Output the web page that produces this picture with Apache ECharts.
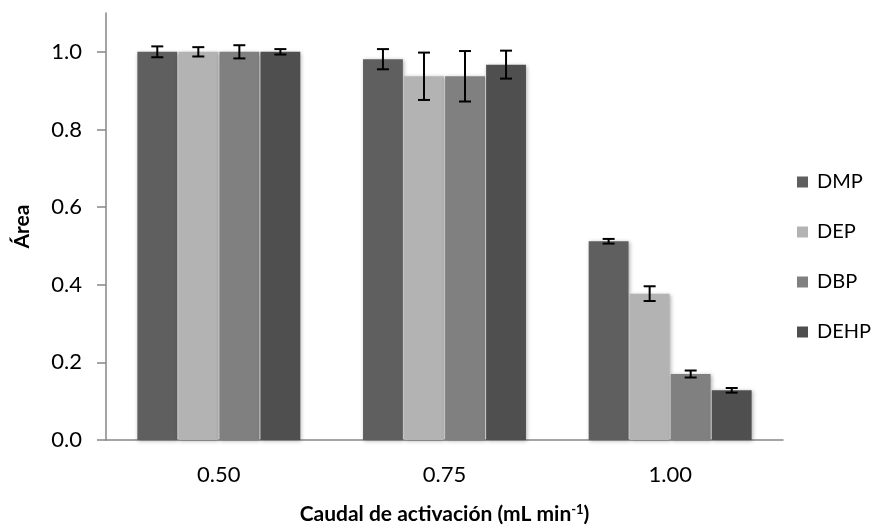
<!DOCTYPE html>
<html>
<head>
<meta charset="utf-8">
<script src="https://cdn.jsdelivr.net/npm/echarts@6/dist/echarts.min.js"></script>
<style>html,body{margin:0;padding:0;background:#fff;}#c{width:873px;height:525px;}</style>
</head>
<body>
<div id="c"></div>
<script>
const categories = ['0.50', '0.75', '1.00'];
const seriesNames = ['DMP', 'DEP', 'DBP', 'DEHP'];
const dmp = [1.000, 0.981, 0.512];
const dep = [1.000, 0.937, 0.377];
const dbp = [1.000, 0.937, 0.170];
const dehp = [1.000, 0.967, 0.128];
const dmpErr = [0.014, 0.026, 0.006];
const depErr = [0.012, 0.061, 0.019];
const dbpErr = [0.017, 0.065, 0.009];
const dehpErr = [0.007, 0.036, 0.006];
const yTicks = [0, 0.2, 0.4, 0.6, 0.8, 1.0];

const values = [dmp, dep, dbp, dehp];
const errors = [dmpErr, depErr, dbpErr, dehpErr];
const colors = ['#5f5f5f', '#b3b3b3', '#808080', '#4f4f4f'];
const CAT_GAP = 0.278, BAR_GAP = 0.03;
const FONT = 'Lato, "Open Sans", sans-serif';
const FS = 22;

const chart = echarts.init(document.getElementById('c'));
const series = [];
seriesNames.forEach((n, i) => {
  series.push({
    name: n, type: 'bar', data: values[i],
    barCategoryGap: (CAT_GAP * 100) + '%', barGap: (BAR_GAP * 100) + '%',
    itemStyle: { color: colors[i], shadowBlur: 4, shadowColor: 'rgba(0,0,0,0.3)', shadowOffsetX: 1, shadowOffsetY: 1 },
    z: 2
  });
});
seriesNames.forEach((n, i) => {
  series.push({
    name: 'err_' + n, type: 'custom', z: 5,
    data: values[i].map((v, k) => [k, v, errors[i][k]]),
    renderItem: function (params, api) {
      const k = api.value(0), v = api.value(1), e = api.value(2);
      const band = api.size([1, 0])[0];
      const groupW = band * (1 - CAT_GAP);
      const bw = groupW / (4 + 3 * BAR_GAP);
      const c = api.coord([k, v]);
      const x = c[0] - groupW / 2 + i * bw * (1 + BAR_GAP) + bw / 2;
      const yTop = api.coord([k, v + e])[1];
      const yBot = api.coord([k, v - e])[1];
      const cap = 6;
      const st = { stroke: '#000', lineWidth: 2 };
      return { type: 'group', children: [
        { type: 'line', shape: { x1: x, y1: yTop, x2: x, y2: yBot }, style: st },
        { type: 'line', shape: { x1: x - cap, y1: yTop, x2: x + cap, y2: yTop }, style: st },
        { type: 'line', shape: { x1: x - cap, y1: yBot, x2: x + cap, y2: yBot }, style: st }
      ]};
    }
  });
});

chart.setOption({
  animation: false,
  textStyle: { fontFamily: FONT },
  grid: { left: 106, right: 90, top: 13, bottom: 85, containLabel: false, outerBoundsMode: 'none' },
  legend: {
    data: seriesNames, orient: 'vertical', left: 792, top: 167,
    icon: 'rect', itemWidth: 11, itemHeight: 11, itemGap: 30,
    textStyle: { fontSize: 20, color: '#000', fontFamily: FONT, padding: [0, 0, 0, 4] }
  },
  xAxis: {
    type: 'category', data: categories,
    axisLine: { lineStyle: { color: '#868686', width: 1.5 } },
    axisTick: { show: false },
    axisLabel: { fontSize: FS, color: '#000', margin: 24, fontFamily: FONT },
    name: '{a|Caudal de activación (mL min}{s|-1}{a|)}',
    nameLocation: 'middle', nameGap: 63,
    nameTextStyle: {
      rich: {
        a: { fontSize: 21, fontWeight: 'bold', color: '#000', fontFamily: FONT },
        s: { fontSize: 13, fontWeight: 'bold', color: '#000', fontFamily: FONT, verticalAlign: 'top', padding: [0, 0, 9, 0] }
      }
    }
  },
  yAxis: {
    type: 'value', min: 0, max: 1.1,
    axisLine: { show: true, lineStyle: { color: '#868686', width: 1.5 } },
    axisTick: { show: true, length: 9, customValues: yTicks, lineStyle: { color: '#868686', width: 1.5 } },
    axisLabel: { fontSize: FS, color: '#000', margin: 24, customValues: yTicks, formatter: v => v.toFixed(1), fontFamily: FONT },
    splitLine: { show: false },
    name: 'Área', nameLocation: 'middle', nameGap: 73,
    nameTextStyle: { fontSize: 21, fontWeight: 'bold', color: '#000', fontFamily: FONT }
  },
  series: series
});
</script>
</body>
</html>
